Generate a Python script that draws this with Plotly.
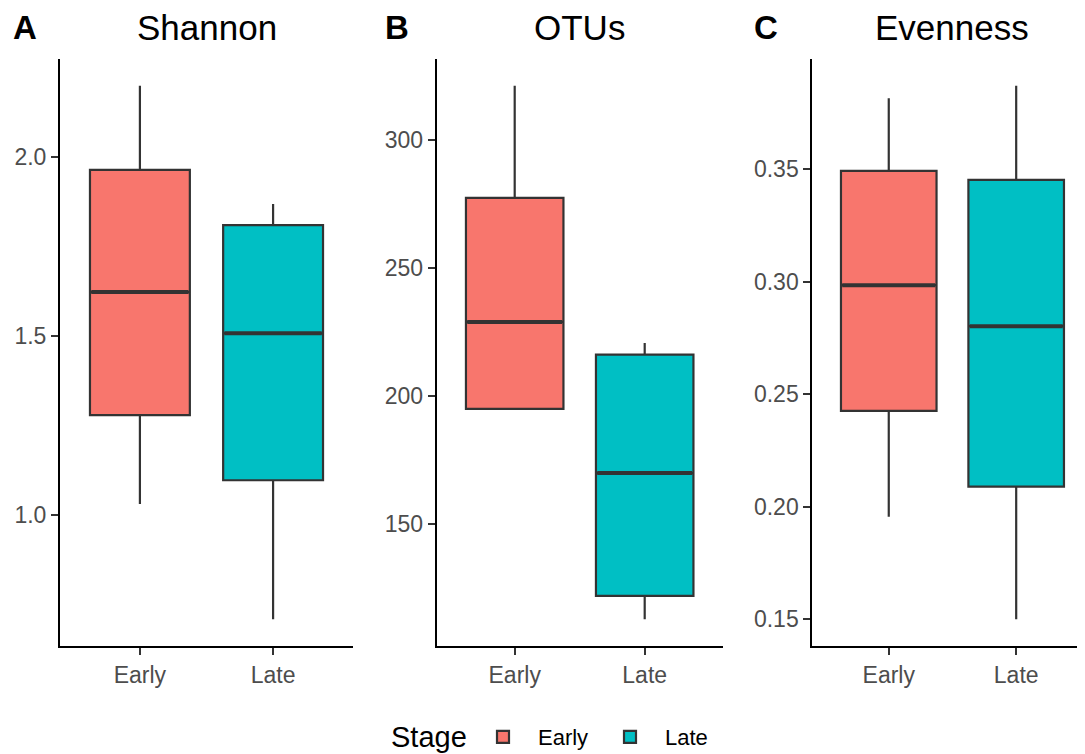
import plotly.graph_objects as go

# ---- data ----
stages = ["Early", "Late"]
fill_colors = ["#F8766D", "#00BFC4"]

shannon_low = [1.032, 0.710]
shannon_q1 = [1.280, 1.098]
shannon_med = [1.623, 1.508]
shannon_q3 = [1.964, 1.810]
shannon_high = [2.199, 1.869]

otus_low = [195.0, 112.7]
otus_q1 = [195.0, 121.9]
otus_med = [229.0, 169.9]
otus_q3 = [277.5, 216.2]
otus_high = [321.4, 220.8]

even_low = [0.1955, 0.1500]
even_q1 = [0.2426, 0.2089]
even_med = [0.2984, 0.2802]
even_q3 = [0.3492, 0.3452]
even_high = [0.3814, 0.3870]

shannon_ticks = [1.0, 1.5, 2.0]
otus_ticks = [150, 200, 250, 300]
even_ticks = [0.15, 0.20, 0.25, 0.30, 0.35]

PAGE_W, PAGE_H = 1085, 754
OFF = 8  # default body margin of the html page
W, H = PAGE_W - OFF, PAGE_H - OFF
FONT = "Liberation Sans, Arial, sans-serif"
BOX_W = 0.75


def px_x(px):
    return (px - OFF) / W


def px_y(py):
    return (PAGE_H - py) / H


panels = [
    dict(letter="A", title="Shannon", low=shannon_low, q1=shannon_q1, med=shannon_med,
         q3=shannon_q3, high=shannon_high, ticks=shannon_ticks, fmt="{:.1f}",
         x0=60, x1=353, xr=[-0.6, 1.6], letter_x=11),
    dict(letter="B", title="OTUs", low=otus_low, q1=otus_q1, med=otus_med,
         q3=otus_q3, high=otus_high, ticks=otus_ticks, fmt="{:d}",
         x0=436.7, x1=722.7, xr=[-0.6, 1.6], letter_x=383),
    dict(letter="C", title="Evenness", low=even_low, q1=even_q1, med=even_med,
         q3=even_q3, high=even_high, ticks=even_ticks, fmt="{:.2f}",
         x0=812.3, x1=1085, xr=[-0.6, 1.54], letter_x=752),
]

y_top, y_bot = 59, 646
ydom = [px_y(y_bot), px_y(y_top)]

fig = go.Figure()
annotations = []

for p_i, p in enumerate(panels):
    ax = "" if p_i == 0 else str(p_i + 1)
    xref, yref = "x" + ax, "y" + ax
    for i, st in enumerate(stages):
        fig.add_trace(go.Box(
            x=[i], q1=[p["q1"][i]], median=[p["med"][i]], q3=[p["q3"][i]],
            lowerfence=[p["low"][i]], upperfence=[p["high"][i]],
            width=BOX_W, whiskerwidth=0, boxpoints=False,
            fillcolor=fill_colors[i], line=dict(color="#333333", width=2.2),
            name=st, legendgroup=st, showlegend=(p_i == 0),
            hoverinfo="skip", xaxis=xref, yaxis=yref,
        ))
        # thicker median line like ggplot
        fig.add_trace(go.Scatter(
            x=[i - BOX_W / 2 + 0.01, i + BOX_W / 2 - 0.01], y=[p["med"][i]] * 2,
            mode="lines", line=dict(color="#333333", width=4),
            showlegend=False, hoverinfo="skip", xaxis=xref, yaxis=yref,
        ))
    lo = min(p["low"]); hi = max(p["high"])
    pad = 0.05 * (hi - lo)
    xd = [px_x(p["x0"]), min(px_x(p["x1"]), 1.0)]
    axis_common = dict(showline=True, linecolor="black", linewidth=2,
                       ticks="outside", ticklen=7, tickwidth=2, tickcolor="#333333",
                       showgrid=False, zeroline=False,
                       tickfont=dict(family=FONT, size=23, color="#4D4D4D"))
    fig.update_layout(**{
        "xaxis" + ax: dict(domain=xd, range=p["xr"], tickvals=[0, 1], ticktext=stages,
                           anchor=yref, **axis_common),
        "yaxis" + ax: dict(domain=ydom, range=[lo - pad, hi + pad], tickvals=p["ticks"],
                           ticktext=[p["fmt"].format(t) for t in p["ticks"]],
                           anchor=xref, **axis_common),
    })
    full_x1 = p["x0"] + (p["x1"] - p["x0"]) * 2.2 / (p["xr"][1] - p["xr"][0])
    annotations.append(dict(text=p["title"], x=px_x((p["x0"] + full_x1) / 2), y=px_y(27),
                            xref="paper", yref="paper", showarrow=False,
                            xanchor="center", yanchor="middle",
                            font=dict(family=FONT, size=35, color="black")))
    annotations.append(dict(text="<b>" + p["letter"] + "</b>", x=px_x(p["letter_x"]), y=px_y(27),
                            xref="paper", yref="paper", showarrow=False,
                            xanchor="left", yanchor="middle",
                            font=dict(family=FONT, size=33, color="black")))

# legend title drawn as text next to the legend entries
annotations.append(dict(text="Stage", x=px_x(389), y=px_y(737), xref="paper", yref="paper",
                        showarrow=False, xanchor="left", yanchor="middle",
                        font=dict(family=FONT, size=29, color="black")))

fig.update_layout(
    width=W, height=H,
    margin=dict(l=0, r=0, t=0, b=0, autoexpand=False),
    paper_bgcolor="white", plot_bgcolor="white",
    annotations=annotations,
    showlegend=True,
    legend=dict(orientation="h", x=px_x(468), xanchor="left", y=px_y(737), yanchor="middle",
                font=dict(family=FONT, size=22, color="black"), itemwidth=60,
                entrywidth=52, entrywidthmode="pixels"),
    font=dict(family=FONT),
)

fig.write_html("out.html")
